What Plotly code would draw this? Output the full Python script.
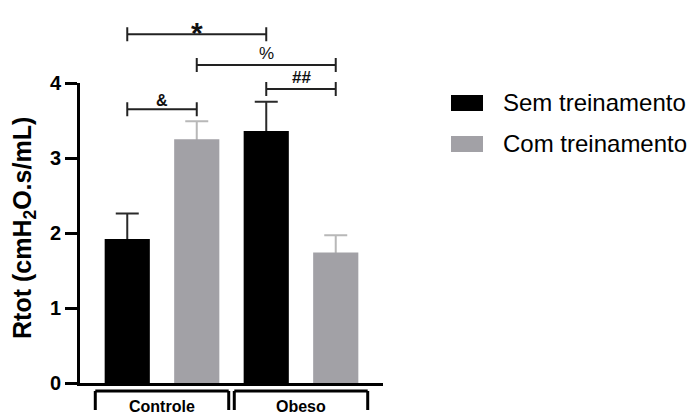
import plotly.graph_objects as go

# ---------------- data ----------------
categories = ["Controle", "Obeso"]
series_names = ["Sem treinamento", "Com treinamento"]
sem_values = [1.92, 3.36]
sem_errors = [0.34, 0.39]
com_values = [3.25, 1.74]
com_errors = [0.24, 0.23]
y_ticks = [0, 1, 2, 3, 4]
y_title = "Rtot (cmH<sub>2</sub>O.s/mL)"

# significance brackets: label, (category, series) start, (category, series) end, level
sig_labels = ["*", "%", "##", "&"]
sig_from = [(0, 0), (0, 1), (1, 0), (0, 0)]
sig_to = [(1, 0), (1, 1), (1, 1), (0, 1)]
sig_levels = [4.65, 4.24, 3.92, 3.65]

# ---------------- styles ----------------
colors = ["#000000", "#a2a1a6"]
err_colors = ["#2a2a2a", "#b8b8b8"]
FONT = "Liberation Sans, Arial, sans-serif"

W, H = 688, 415
L, T, PW, PH = 80, 83, 303, 300
YMAX = 4.0
X_RANGE = [-0.59, 1.59]


def px_x(px):
    return (px - L) / PW


def px_y(py):
    return (T + PH - py) / PH


def yv(v):
    return v / YMAX


def bar_x(cat, ser):
    return cat + (ser - 0.5) * 0.5


fig = go.Figure()
series = [
    (sem_values, sem_errors, series_names[0], colors[0], err_colors[0], "a"),
    (com_values, com_errors, series_names[1], colors[1], err_colors[1], "b"),
]
# error bars first (drawn underneath the bars, so only the upper part shows)
for vals, errs, name, col, ecol, og in series:
    fig.add_trace(go.Bar(
        x=categories, y=vals, name=name + " SEM", offsetgroup=og,
        marker=dict(color="rgba(0,0,0,0)", line=dict(width=0)),
        error_y=dict(type="data", array=errs, symmetric=True,
                     color=ecol, thickness=2, width=11.5),
        showlegend=False, hoverinfo="skip",
    ))
for vals, errs, name, col, ecol, og in series:
    fig.add_trace(go.Bar(
        x=categories, y=vals, name=name, offsetgroup=og,
        marker=dict(color=col, line=dict(width=0)),
        showlegend=False,
    ))

shapes = []
annotations = []

# significance brackets
sig_font_sizes = [30, 17, 17, 16]
sig_bold = [True, False, True, True]
sig_shift = [2, 11, 11.5, 9]
tick_half = 7 / PH
for lab, a, b, lev, fs, bd, sh in zip(sig_labels, sig_from, sig_to, sig_levels,
                                       sig_font_sizes, sig_bold, sig_shift):
    x0 = bar_x(*a)
    x1 = bar_x(*b)
    y = yv(lev)
    ln = dict(color="#222222", width=2)
    shapes.append(dict(type="line", xref="x", yref="paper", x0=x0, x1=x1, y0=y, y1=y, line=ln))
    for xx in (x0, x1):
        shapes.append(dict(type="line", xref="x", yref="paper", x0=xx, x1=xx,
                           y0=y - tick_half, y1=y + tick_half, line=ln))
    annotations.append(dict(x=(x0 + x1) / 2, y=y, xref="x", yref="paper",
                            text=f"<b>{lab}</b>" if bd else lab, showarrow=False,
                            yanchor="middle", xanchor="center", yshift=sh,
                            font=dict(family=FONT, size=fs, color="#111111")))

# category group brackets below the axis
for i, cat in enumerate(categories):
    x0, x1 = i - 0.48, i + 0.48
    ytop = px_y(391)
    ybot = px_y(410)
    ln = dict(color="#000000", width=3)
    shapes.append(dict(type="line", xref="x", yref="paper", x0=x0, x1=x1, y0=ytop, y1=ytop, line=ln))
    for xx in (x0, x1):
        shapes.append(dict(type="line", xref="x", yref="paper", x0=xx, x1=xx, y0=ytop, y1=ybot, line=ln))
    annotations.append(dict(x=i, y=px_y(406.5), xref="x", yref="paper", text=f"<b>{cat}</b>",
                            showarrow=False, yanchor="middle", xanchor="center",
                            font=dict(family=FONT, size=16, color="#000000")))

# y-axis title
annotations.append(dict(x=px_x(24), y=px_y(228), xref="paper", yref="paper",
                        text=f"<b>{y_title}</b>",
                        textangle=-90, showarrow=False, xanchor="center", yanchor="middle",
                        font=dict(family=FONT, size=25, color="#000000")))

# manual legend
leg_rows = [103, 144]
for name, col, ry in zip(series_names, colors, leg_rows):
    shapes.append(dict(type="rect", xref="paper", yref="paper",
                       x0=px_x(451), x1=px_x(483), y0=px_y(ry + 8), y1=px_y(ry - 8),
                       fillcolor=col, line=dict(width=0)))
    annotations.append(dict(x=px_x(501), y=px_y(ry - 1), xref="paper", yref="paper", text=name,
                            showarrow=False, xanchor="left", yanchor="middle",
                            font=dict(family=FONT, size=24, color="#000000")))

fig.update_layout(
    width=W, height=H,
    margin=dict(l=L, r=W - L - PW, t=T, b=H - T - PH, autoexpand=False),
    paper_bgcolor="white", plot_bgcolor="white",
    barmode="group", bargap=0.0, bargroupgap=0.35,
    shapes=shapes, annotations=annotations,
    showlegend=False,
    xaxis=dict(range=X_RANGE, showline=True, linecolor="black", linewidth=3,
               showticklabels=False, ticks="", showgrid=False, zeroline=False,
               fixedrange=True),
    yaxis=dict(range=[0, YMAX], tickvals=y_ticks, showline=True, linecolor="black",
               linewidth=3, ticks="outside", ticklen=12, tickwidth=3, tickcolor="black",
               tickfont=dict(family=FONT, size=20, color="black", weight="bold"),
               showgrid=False, zeroline=False, fixedrange=True),
)

fig.write_html("out.html", config={"displayModeBar": False},
               post_script="document.body.style.margin='0px';")
